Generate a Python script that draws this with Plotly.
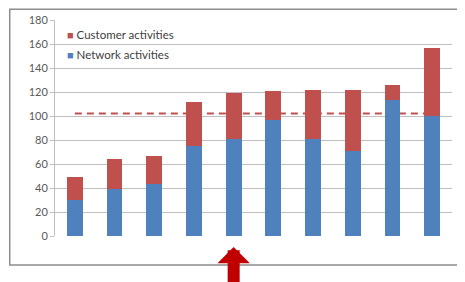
import plotly.graph_objects as go

categories = ["1", "2", "3", "4", "5", "6", "7", "8", "9", "10"]
network = [30, 39, 43, 75, 81, 97, 81, 71, 113, 100]
customer_total = [49, 64, 67, 112, 119, 121, 122, 122, 126, 157]
customer = [t - n for t, n in zip(customer_total, network)]
target = 102
highlight_index = 4
y_ticks = [0, 20, 40, 60, 80, 100, 120, 140, 160, 180]
series_names = ["Customer activities", "Network activities"]

BLUE = "#4F81BD"
RED = "#C0504D"
FONT = "Lato"

fig = go.Figure()
fig.add_trace(go.Bar(x=categories, y=network, name=series_names[1],
                     marker=dict(color=BLUE, line=dict(width=0)), showlegend=False))
fig.add_trace(go.Bar(x=categories, y=customer, name=series_names[0],
                     marker=dict(color=RED, line=dict(width=0)), showlegend=False))

# legend (as in the original: small square swatch right next to the text)
for name, color, ypos in [(series_names[0], RED, 0.935), (series_names[1], BLUE, 0.838)]:
    fig.add_annotation(
        x=0.024, y=ypos, xref="paper", yref="paper", xanchor="left", yanchor="middle",
        showarrow=False,
        text=f"<span style='font-size:11px;color:{color}'>■</span> {name}",
        font=dict(family=FONT, size=11.5, color="#404040"),
    )

# target dashed line between gridlines and bars
fig.add_shape(type="line", xref="x", yref="y",
              x0=0, x1=len(categories) - 1, y0=target, y1=target,
              line=dict(color="#C0504D", width=2, dash="7px,5px"),
              layer="between")

# outer frame
fig.add_shape(type="rect", xref="paper", yref="paper",
              x0=-0.114, x1=1.2, y0=-0.134, y1=1.05,
              line=dict(color="#8C8C8C", width=1.5), layer="below")

# arrow pointing to highlighted category
fig.add_annotation(x=highlight_index, xref="x", y=-0.051, yref="paper",
                   ax=0, ay=45, showarrow=True, arrowhead=1, arrowsize=0.45,
                   arrowwidth=12, arrowcolor="#C00000", text="")

fig.update_layout(
    width=465, height=282,
    margin=dict(l=47, r=21, t=12, b=54, autoexpand=False),
    barmode="stack", bargap=0.6,
    plot_bgcolor="white", paper_bgcolor="white",
    font=dict(family=FONT, size=11, color="#595959"),
    showlegend=False,
    xaxis=dict(showticklabels=False, showgrid=False, zeroline=False,
               showline=False, ticks="", range=[-0.5, 9.5], automargin=False),
    yaxis=dict(range=[0, 180], tickvals=y_ticks, showgrid=True,
               gridcolor="#BFBFBF", gridwidth=1, zeroline=False,
               showline=True, linecolor="#BFBFBF", ticks="outside",
               ticklen=4, tickcolor="#BFBFBF", automargin=False,
               tickfont=dict(size=11, color="#595959")),
)

fig.write_html("out.html")
